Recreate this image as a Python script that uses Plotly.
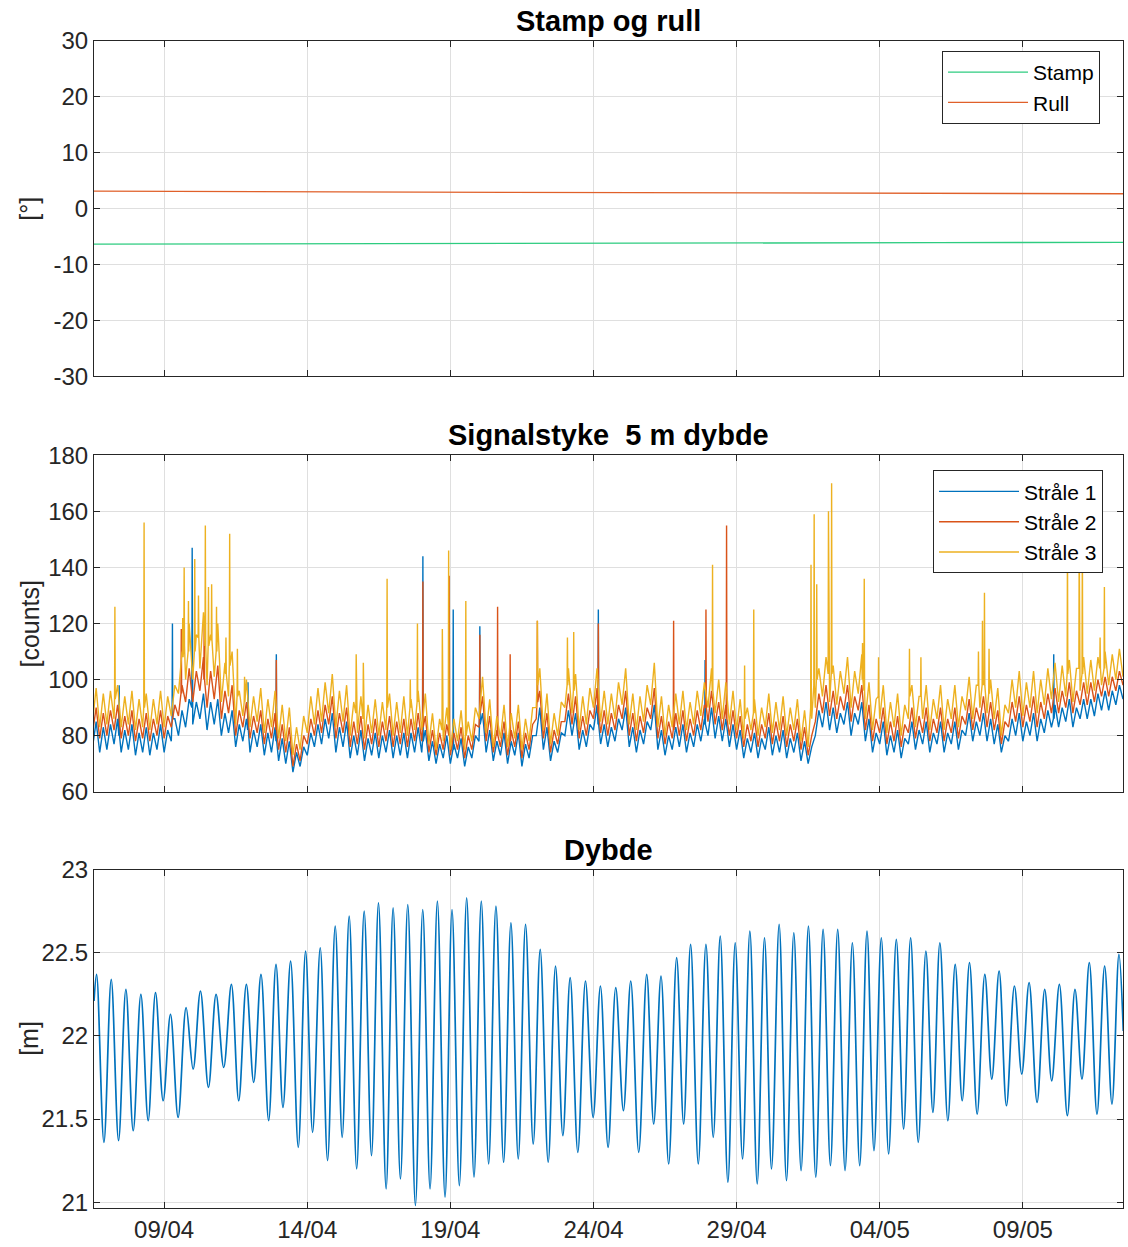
import pandas as pd
import plotly.graph_objects as go
from plotly.subplots import make_subplots

# ---------------- data ----------------
ORIGIN = pd.Timestamp("2023-04-09")

# Stamp og rull (degrees), read at a few days (days relative to 09/04)
tilt_day = [-2.45, 0, 3, 6, 9, 12, 15, 18, 21, 24, 27, 30, 33.5]
stamp_deg = [-6.32, -6.31, -6.30, -6.28, -6.26, -6.24, -6.21, -6.18, -6.15, -6.11, -6.08, -6.04, -6.02]
rull_deg = [3.15, 3.08, 3.03, 2.99, 2.95, 2.92, 2.88, 2.85, 2.81, 2.77, 2.74, 2.70, 2.68]

# Signal strength: lower / upper edge of the noisy band in each 6 h step from 06/04 12:00
sig_start = "2023-04-06 12:00"
s1_lo = [76, 74, 75, 77, 74, 75, 73, 74, 73, 75, 74, 78, 80, 83, 84, 86, 82, 84, 80, 81,
         76, 78, 74, 76, 73, 74, 71, 70, 67, 69, 73, 76, 77, 79, 74, 76, 72, 73, 71, 73,
         72, 74, 72, 73, 72, 74, 74, 71, 70, 72, 70, 72, 69, 72, 78, 74, 71, 73, 70, 73,
         69, 72, 80, 75, 71, 74, 80, 80, 75, 76, 82, 77, 76, 78, 82, 76, 74, 77, 82, 75,
         73, 75, 76, 74, 76, 78, 80, 79, 78, 76, 75, 72, 74, 72, 75, 73, 74, 72, 74, 71,
         70, 80, 83, 82, 81, 84, 80, 84, 78, 74, 77, 73, 74, 72, 77, 75, 77, 74, 77, 74,
         77, 75, 80, 78, 80, 78, 77, 74, 78, 80, 78, 80, 78, 81, 83, 83, 85, 83, 86, 86,
         87, 89, 89, 91, 93]
s1_hi = [85, 83, 84, 86, 82, 84, 81, 83, 81, 84, 82, 86, 89, 93, 92, 95, 92, 93, 88, 89,
         84, 86, 82, 84, 81, 83, 79, 78, 74, 76, 81, 84, 86, 88, 83, 85, 80, 82, 79, 81,
         80, 82, 80, 81, 81, 83, 82, 78, 77, 80, 77, 79, 76, 80, 88, 82, 78, 81, 78, 81,
         77, 80, 90, 83, 78, 81, 89, 88, 82, 84, 91, 84, 83, 86, 90, 83, 82, 85, 91, 82,
         80, 83, 84, 81, 84, 86, 90, 87, 86, 84, 82, 79, 81, 79, 83, 80, 82, 79, 81, 78,
         76, 89, 92, 90, 88, 92, 88, 92, 86, 81, 85, 80, 82, 79, 85, 82, 85, 81, 85, 81,
         85, 82, 88, 85, 88, 86, 84, 80, 86, 88, 85, 88, 86, 89, 91, 90, 93, 90, 93, 93,
         95, 96, 96, 98, 99]
s2_lo = [81, 79, 80, 82, 79, 80, 78, 79, 78, 80, 79, 83, 87, 92, 92, 96, 90, 93, 86, 88,
         80, 83, 79, 81, 77, 79, 75, 74, 69, 71, 77, 80, 81, 84, 79, 81, 76, 77, 75, 77,
         76, 78, 76, 77, 76, 78, 78, 74, 73, 75, 73, 75, 72, 75, 83, 78, 74, 76, 73, 76,
         72, 75, 86, 79, 74, 77, 85, 84, 79, 80, 86, 81, 80, 82, 86, 80, 78, 81, 86, 79,
         77, 79, 80, 78, 80, 82, 85, 84, 82, 80, 79, 76, 78, 76, 79, 77, 78, 76, 78, 75,
         73, 85, 88, 87, 86, 89, 85, 89, 82, 78, 81, 77, 78, 76, 81, 79, 81, 78, 81, 78,
         81, 79, 84, 82, 85, 83, 82, 77, 83, 85, 83, 85, 83, 86, 88, 88, 90, 88, 91, 91,
         92, 94, 94, 96, 98]
s2_hi = [90, 88, 89, 91, 87, 89, 86, 88, 86, 89, 87, 91, 98, 104, 103, 108, 103, 105, 96, 98,
         89, 92, 87, 89, 86, 88, 84, 83, 77, 80, 86, 89, 91, 94, 88, 90, 85, 87, 84, 86,
         85, 87, 85, 86, 86, 88, 87, 82, 81, 84, 81, 83, 80, 84, 94, 87, 82, 85, 82, 85,
         81, 84, 96, 88, 82, 85, 95, 94, 87, 89, 97, 89, 88, 91, 96, 88, 87, 90, 97, 87,
         85, 88, 89, 86, 89, 91, 96, 92, 91, 89, 87, 84, 86, 84, 88, 85, 87, 84, 86, 83,
         80, 95, 98, 96, 94, 98, 94, 98, 91, 86, 90, 85, 87, 84, 90, 87, 90, 86, 90, 86,
         90, 87, 93, 90, 94, 92, 89, 85, 92, 94, 91, 94, 92, 95, 97, 96, 99, 96, 99, 99,
         100, 101, 101, 103, 104]
s3_lo = [85, 83, 84, 86, 83, 84, 82, 83, 82, 84, 83, 87, 95, 100, 100, 104, 98, 101, 92, 94,
         84, 87, 83, 85, 81, 83, 79, 78, 73, 75, 81, 84, 85, 88, 83, 85, 80, 81, 79, 81,
         80, 82, 80, 81, 80, 82, 82, 77, 75, 78, 75, 78, 75, 78, 86, 81, 76, 79, 76, 79,
         75, 78, 90, 82, 77, 80, 90, 88, 82, 84, 90, 85, 84, 86, 91, 84, 82, 85, 91, 83,
         80, 83, 84, 82, 84, 87, 90, 88, 86, 84, 82, 79, 82, 80, 83, 81, 82, 80, 82, 78,
         76, 90, 94, 92, 91, 95, 90, 95, 86, 82, 86, 81, 83, 80, 86, 83, 86, 82, 86, 82,
         86, 83, 89, 86, 90, 88, 86, 80, 88, 90, 87, 90, 88, 91, 93, 92, 94, 92, 96, 95,
         96, 98, 98, 100, 101]
s3_hi = [97, 95, 96, 98, 94, 96, 93, 95, 93, 96, 94, 98, 110, 120, 116, 124, 116, 120, 106, 110,
         96, 100, 94, 97, 93, 96, 91, 90, 83, 87, 94, 97, 99, 102, 96, 98, 92, 94, 91, 93,
         92, 95, 92, 94, 93, 96, 95, 88, 86, 90, 86, 89, 85, 90, 101, 93, 87, 91, 88, 91,
         86, 90, 104, 95, 88, 92, 104, 102, 94, 97, 104, 96, 95, 99, 104, 95, 94, 98, 106, 94,
         91, 95, 96, 92, 96, 99, 104, 100, 99, 96, 93, 90, 93, 90, 95, 92, 94, 90, 93, 89,
         86, 104, 108, 105, 103, 108, 103, 109, 99, 93, 98, 92, 95, 91, 98, 94, 98, 93, 98, 93,
         98, 94, 101, 98, 103, 100, 97, 91, 100, 103, 99, 103, 100, 104, 106, 105, 107, 104, 108, 107,
         108, 110, 109, 111, 110]

# Narrow spikes: (day rel. 09/04, peak value, foot value)
s1_spikes = [(-1.57, 98, 80), (0.29, 120, 86), (0.98, 147, 90), (2.93, 99, 82),
             (3.92, 109, 78), (9.04, 144, 78), (10.10, 125, 75), (11.03, 119, 84),
             (15.17, 125, 84), (18.90, 107, 84), (31.08, 109, 86)]
s2_spikes = [(0.60, 118, 95), (1.40, 122, 100), (3.92, 107, 82), (9.04, 135, 83),
             (9.96, 137, 80), (11.03, 116, 88), (11.65, 126, 80), (12.09, 109, 78),
             (13.04, 121, 92), (15.17, 120, 88), (17.80, 121, 82), (18.93, 125, 90),
             (19.65, 155, 86)]
s3_spikes = [(-1.72, 126, 93), (-0.70, 156, 90), (0.65, 122, 108), (0.70, 140, 112),
             (0.85, 128, 110), (1.07, 143, 110), (1.20, 130, 115), (1.44, 155, 112),
             (1.55, 133, 112), (1.66, 134, 114), (1.83, 126, 110), (2.16, 115, 102),
             (2.29, 152, 105), (2.56, 111, 94), (2.81, 101, 92), (6.71, 109, 88),
             (6.96, 106, 86), (7.79, 136, 90), (8.60, 100, 90), (8.85, 120, 92),
             (9.72, 118, 82), (9.94, 146, 84), (10.54, 128, 80), (13.04, 121, 98),
             (14.09, 115, 98), (14.31, 117, 96), (19.16, 141, 96), (20.28, 105, 86),
             (20.60, 125, 88), (22.60, 141, 90), (22.71, 159, 98), (22.80, 134, 100),
             (23.21, 160, 102), (23.32, 170, 102), (24.40, 113, 100), (24.46, 136, 96),
             (24.96, 108, 94), (26.04, 111, 94), (26.44, 108, 94), (28.45, 110, 98),
             (28.59, 121, 98), (28.66, 131, 98), (28.82, 111, 95), (31.56, 150, 102),
             (31.97, 150, 104), (32.08, 152, 102), (32.70, 115, 104), (32.85, 133, 104)]

# Depth: tidal highs and lows (day rel. 09/04, metres)
depth_day = [-2.449, -2.359, -2.103, -1.848, -1.592, -1.336, -1.080, -0.813, -0.557, -0.301,
             -0.034, 0.222, 0.489, 0.768, 1.013, 1.268, 1.548, 1.815, 2.082, 2.350,
             2.606, 2.873, 3.129, 3.384, 3.652, 3.908, 4.152, 4.419, 4.687, 4.942,
             5.187, 5.454, 5.710, 5.977, 6.221, 6.466, 6.727, 6.989, 7.245, 7.489,
             7.756, 8.000, 8.256, 8.512, 8.779, 9.035, 9.291, 9.547, 9.814, 10.058,
             10.314, 10.570, 10.826, 11.081, 11.337, 11.593, 11.860, 12.116, 12.372, 12.627,
             12.895, 13.139, 13.418, 13.674, 13.930, 14.186, 14.453, 14.720, 14.988, 15.243,
             15.511, 15.778, 16.046, 16.302, 16.581, 16.860, 17.104, 17.360, 17.627, 17.906,
             18.150, 18.394, 18.662, 18.929, 19.185, 19.429, 19.696, 19.952, 20.208, 20.464,
             20.720, 20.975, 21.220, 21.487, 21.743, 21.999, 22.254, 22.510, 22.766, 23.022,
             23.278, 23.533, 23.789, 24.045, 24.301, 24.556, 24.800, 25.056, 25.312, 25.580,
             25.835, 26.080, 26.347, 26.614, 26.858, 27.102, 27.381, 27.637, 27.882, 28.137,
             28.405, 28.672, 28.916, 29.172, 29.428, 29.707, 29.963, 30.219, 30.498, 30.765,
             31.009, 31.277, 31.556, 31.823, 32.067, 32.323, 32.591, 32.858, 33.114, 33.358,
             33.509]
depth_m = [22.21, 22.37, 21.36, 22.34, 21.37, 22.28, 21.43, 22.25, 21.49, 22.26,
           21.61, 22.13, 21.51, 22.17, 21.80, 22.27, 21.69, 22.25, 21.81, 22.31,
           21.61, 22.31, 21.72, 22.37, 21.49, 22.43, 21.57, 22.45, 21.33, 22.51,
           21.42, 22.53, 21.25, 22.66, 21.39, 22.72, 21.20, 22.75, 21.28, 22.80,
           21.08, 22.77, 21.14, 22.79, 20.98, 22.76, 21.08, 22.81, 21.03, 22.76,
           21.10, 22.83, 21.15, 22.81, 21.23, 22.78, 21.24, 22.68, 21.26, 22.67,
           21.35, 22.52, 21.24, 22.42, 21.40, 22.35, 21.30, 22.33, 21.51, 22.30,
           21.33, 22.29, 21.55, 22.33, 21.30, 22.37, 21.47, 22.36, 21.23, 22.47,
           21.47, 22.55, 21.23, 22.55, 21.39, 22.60, 21.12, 22.56, 21.26, 22.63,
           21.11, 22.59, 21.20, 22.67, 21.13, 22.62, 21.19, 22.66, 21.15, 22.64,
           21.22, 22.64, 21.19, 22.56, 21.22, 22.63, 21.31, 22.59, 21.29, 22.58,
           21.44, 22.59, 21.36, 22.51, 21.54, 22.56, 21.49, 22.43, 21.61, 22.44,
           21.53, 22.37, 21.74, 22.39, 21.58, 22.30, 21.77, 22.32, 21.60, 22.28,
           21.73, 22.31, 21.52, 22.28, 21.74, 22.44, 21.53, 22.42, 21.59, 22.49,
           22.03]

tick_days = ["2023-04-09", "2023-04-14", "2023-04-19", "2023-04-24", "2023-04-29", "2023-05-04", "2023-05-09"]
tick_text = ["09/04", "14/04", "19/04", "24/04", "29/04", "04/05", "09/05"]
x_range = ["2023-04-06 13:12", "2023-05-12 12:00"]

# ---------------- helpers ----------------
def to_time(days):
    return ORIGIN + pd.to_timedelta(pd.Series(days, dtype=float), unit="D")

def band_series(lo, hi, spikes):
    t_lo = pd.date_range(sig_start, periods=len(lo), freq="6h")
    t_hi = t_lo + pd.Timedelta(hours=3)
    df = pd.concat([pd.DataFrame({"t": t_lo, "v": lo}), pd.DataFrame({"t": t_hi, "v": hi})])
    rows = []
    for d, peak, foot in spikes:
        rows += [(d - 0.012, foot), (d, peak), (d + 0.012, foot)]
    sp = pd.DataFrame(rows, columns=["d", "v"])
    sp["t"] = to_time(sp["d"]).values
    out = pd.concat([df, sp[["t", "v"]]]).sort_values("t")
    return out["t"], out["v"]

# ---------------- figure ----------------
W, H = 1128, 1247
L, R, T, B = 94, 4, 41, 37
ph = H - T - B

def frac(top_px, bot_px):
    return [1 - (bot_px - T) / ph, 1 - (top_px - T) / ph]

fig = make_subplots(rows=3, cols=1)
doms = [frac(41, 377), frac(456, 793), frac(871, 1210)]

FONT = "Liberation Sans, Arial, Helvetica, sans-serif"
AX = "#262626"
GRID = "#dfdfdf"

C_BLUE, C_RED, C_YEL = "#0072BD", "#D95319", "#EDB120"
C_STAMP, C_RULL = "#2ECC80", "#E0602A"

tt = to_time(tilt_day)
fig.add_trace(go.Scatter(x=tt, y=stamp_deg, mode="lines", name="Stamp",
                         line=dict(color=C_STAMP, width=1.3), legend="legend"), row=1, col=1)
fig.add_trace(go.Scatter(x=tt, y=rull_deg, mode="lines", name="Rull",
                         line=dict(color=C_RULL, width=1.3), legend="legend"), row=1, col=1)

for lo, hi, sp, name, col in [(s1_lo, s1_hi, s1_spikes, "Stråle 1", C_BLUE),
                              (s2_lo, s2_hi, s2_spikes, "Stråle 2", C_RED),
                              (s3_lo, s3_hi, s3_spikes, "Stråle 3", C_YEL)]:
    x, y = band_series(lo, hi, sp)
    fig.add_trace(go.Scatter(x=x, y=y, mode="lines", name=name,
                             line=dict(color=col, width=1.4), legend="legend2"), row=2, col=1)

fig.add_trace(go.Scatter(x=to_time(depth_day), y=depth_m, mode="lines", showlegend=False,
                         line=dict(color=C_BLUE, width=1.7, shape="spline", smoothing=1.0)),
              row=3, col=1)

TICKFONT = dict(family=FONT, size=24, color="#262626")
common_x = dict(range=x_range, tickvals=tick_days, ticktext=tick_text, showgrid=True,
                gridcolor=GRID, gridwidth=1, showline=True, linecolor=AX, linewidth=1,
                mirror="ticks", ticks="inside", ticklen=6, tickcolor=AX, zeroline=False,
                tickfont=TICKFONT)
common_y = dict(showgrid=True, gridcolor=GRID, gridwidth=1, showline=True, linecolor=AX,
                linewidth=1, mirror="ticks", ticks="inside", ticklen=6, tickcolor=AX,
                zeroline=False, tickfont=TICKFONT)

for i in range(3):
    fig.update_xaxes(domain=[0, 1], showticklabels=(i == 2), row=i + 1, col=1, **common_x)
    fig.update_yaxes(domain=doms[i], row=i + 1, col=1, **common_y)

fig.update_yaxes(range=[-30, 30], tickvals=[-30, -20, -10, 0, 10, 20, 30],
                 ticktext=["-30", "-20", "-10", "0", "10", "20", "30"], row=1, col=1)
fig.update_yaxes(range=[60, 180], tickvals=[60, 80, 100, 120, 140, 160, 180], row=2, col=1)
fig.update_yaxes(range=[20.965, 23], tickvals=[21, 21.5, 22, 22.5, 23],
                 ticktext=["21", "21.5", "22", "22.5", "23"], row=3, col=1)

titles = ["Stamp og rull", "Signalstyke&nbsp; 5 m dybde", "Dybde"]
ylabels = ["[°]", "[counts]", "[m]"]
for i in range(3):
    fig.add_annotation(text="<b>" + titles[i] + "</b>", xref="paper", yref="paper",
                       x=0.5, y=doms[i][1], yanchor="middle", yshift=20, showarrow=False,
                       font=dict(family=FONT, size=29, color="#000000"))
    fig.add_annotation(text=ylabels[i], xref="paper", yref="paper", x=(29 - L) / (W - L - R),
                       y=(doms[i][0] + doms[i][1]) / 2, textangle=-90, showarrow=False,
                       xanchor="center", yanchor="middle",
                       font=dict(family=FONT, size=25, color="#262626"))

fig.update_layout(
    width=W, height=H, margin=dict(l=L, r=R, t=T, b=B),
    paper_bgcolor="white", plot_bgcolor="white",
    font=dict(family=FONT, size=22, color="#262626"),
    legend=dict(x=(1101 - L) / (W - L - R), y=1 - (51 - T) / ph, xanchor="right", yanchor="top",
                bgcolor="white", bordercolor=AX, borderwidth=1, itemwidth=80,
                font=dict(family=FONT, size=21, color="#000000"), tracegroupgap=0),
    legend2=dict(x=(1104 - L) / (W - L - R), y=1 - (471 - T) / ph, xanchor="right", yanchor="top",
                 bgcolor="white", bordercolor=AX, borderwidth=1, itemwidth=80,
                 font=dict(family=FONT, size=21, color="#000000"), tracegroupgap=0),
    showlegend=True,
)

fig.write_html("out.html")
